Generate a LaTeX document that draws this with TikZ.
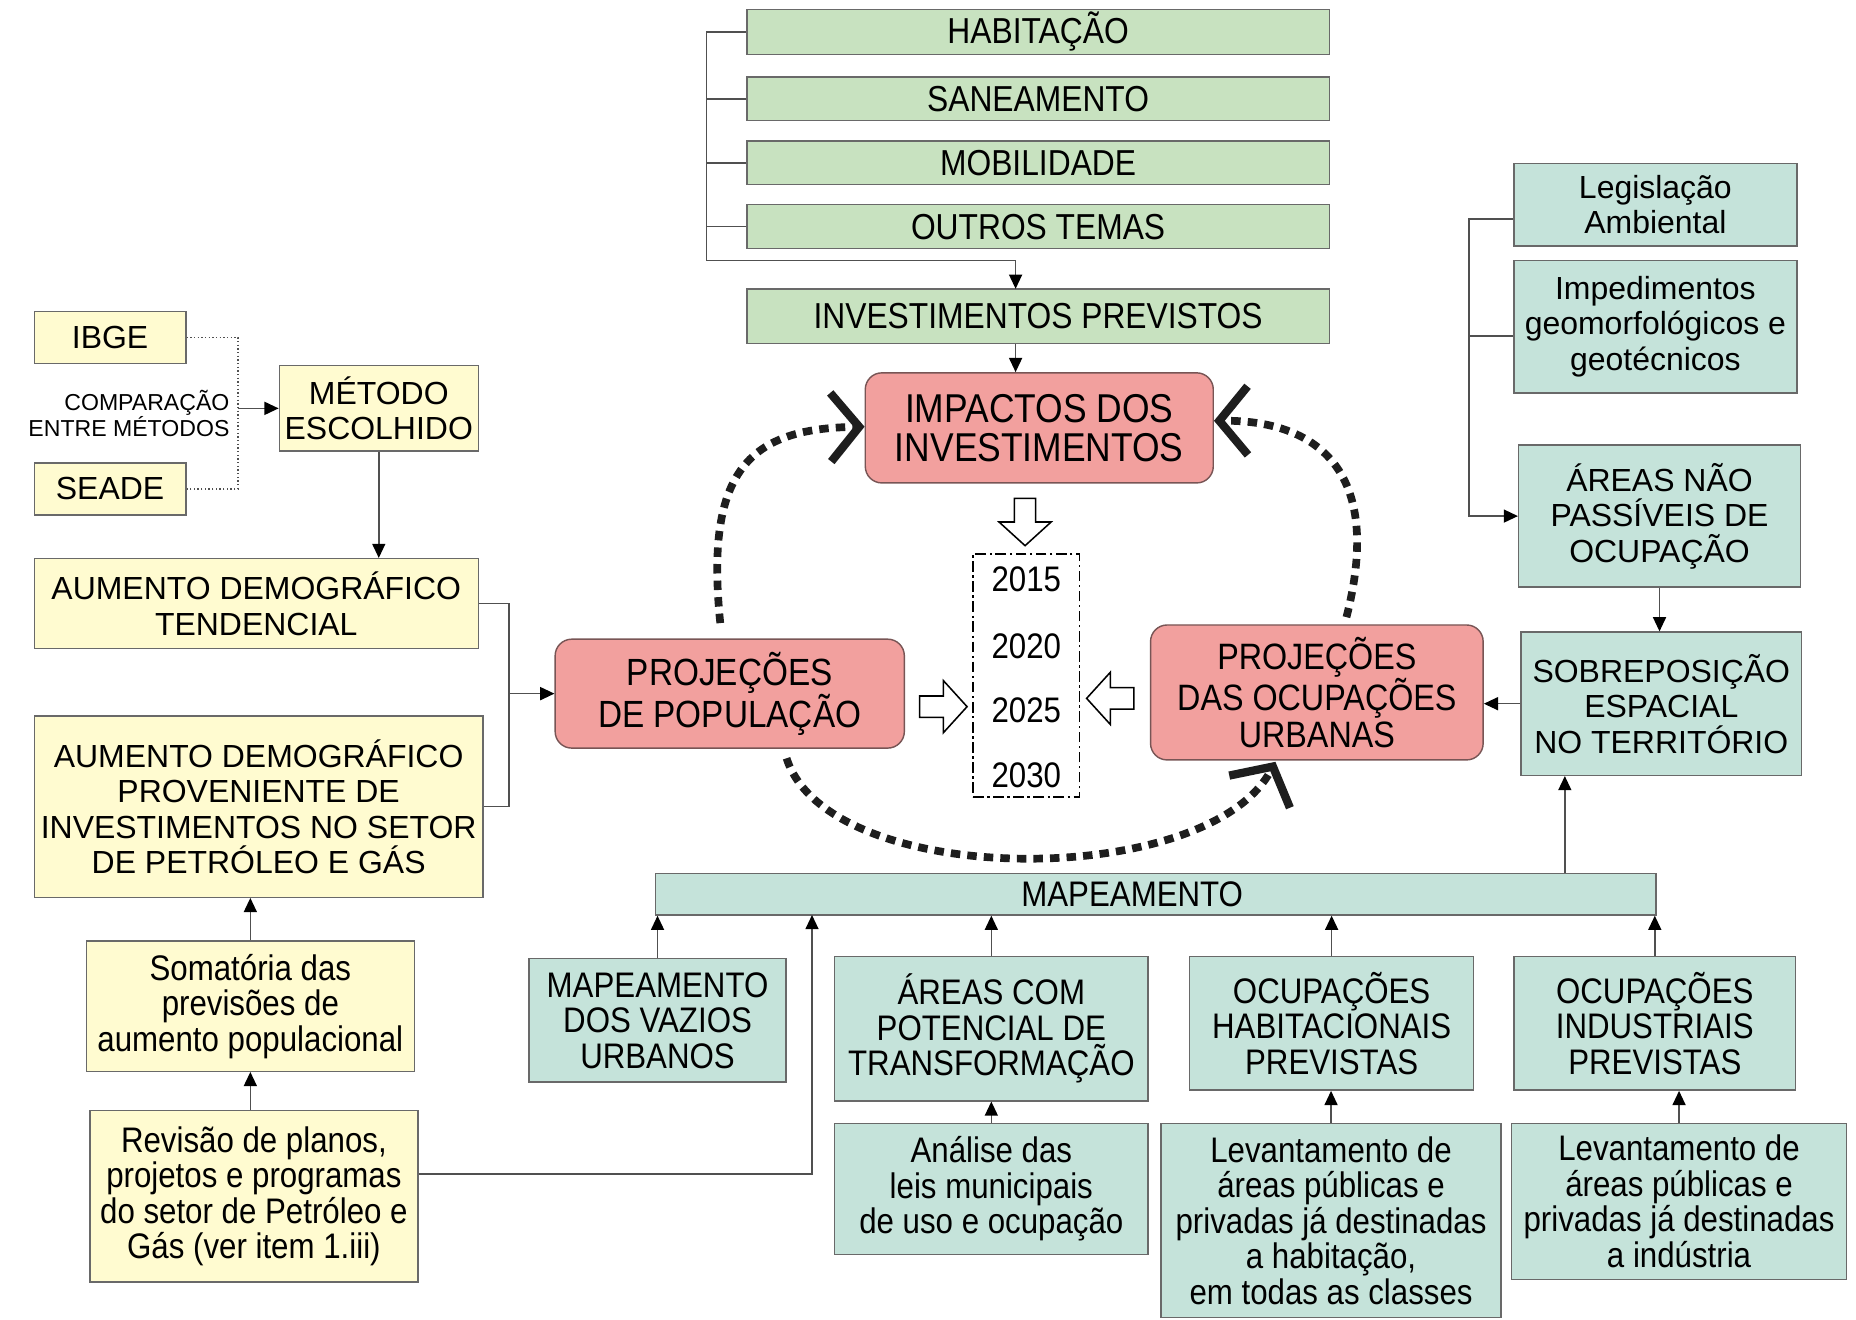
\documentclass[tikz,border=0pt]{standalone}
\usepackage{fontspec}
\setmainfont{Liberation Sans}
\newfontfamily\condfont{Liberation Sans}[FakeStretch=0.88]
\usetikzlibrary{arrows.meta,calc}
\definecolor{yel}{RGB}{255,251,208}
\definecolor{grn}{RGB}{200,226,192}
\definecolor{tealf}{RGB}{197,227,218}
\definecolor{pnk}{RGB}{242,160,158}
\definecolor{pbord}{RGB}{120,85,85}
\definecolor{bord}{RGB}{105,105,105}
\definecolor{lin}{RGB}{80,80,80}
\definecolor{dk}{RGB}{30,30,30}
\begin{document}
\begin{tikzpicture}[x=1pt,y=-1pt,
  box/.style={draw=bord, line width=1.2pt, inner sep=0pt, align=center, text=black},
  nf/.style={font=\fontsize{27}{30}\selectfont},
  cf/.style={font=\condfont\fontsize{30}{30}\selectfont},
  sz/.style 2 args={minimum width=#1pt, minimum height=#2pt},
  ybox/.style={box, fill=yel, nf},
  gbox/.style={box, fill=grn, font=\condfont\fontsize{30.5}{30}\selectfont},
  tbox/.style={box, fill=tealf},
  pbox/.style={box, fill=pnk, draw=pbord, rounded corners=14pt},
  conn/.style={draw=lin, line width=1.3pt},
  arr/.style={conn, -{Triangle[length=12pt,width=11pt,color=black]}},
  dotln/.style={draw=lin, line width=1.1pt, dotted},
  thickdots/.style={draw=dk, line width=6.5pt, dash pattern=on 8pt off 6pt,
     -{Straight Barb[length=24pt,width=58pt,line width=7pt]}},
  bigarrow/.pic={\draw[fill=white, line width=1.3pt] (-20,-9) -- (0,-9) -- (0,-22) -- (20,0) -- (0,22) -- (0,9) -- (-20,9) -- cycle;}
]
\fill[white] (0,0) rectangle (1568,1115);
\useasboundingbox (0,0) rectangle (1568,1115);

% top green column
\node[gbox, sz={492}{38}] (hab) at (877,27) {HABITAÇÃO};
\node[gbox, sz={492}{37}] (san) at (877,83.5) {SANEAMENTO};
\node[gbox, sz={492}{37}] (mob) at (877,137.5) {MOBILIDADE};
\node[gbox, sz={492}{37}] (out) at (877,191.5) {OUTROS TEMAS};
\node[gbox, sz={492}{46}] (inv) at (877,267) {INVESTIMENTOS PREVISTOS};

% pink
\node[pbox, sz={294}{93}, font=\condfont\fontsize{34}{33}\selectfont] (imp) at (878,361.5) {IMPACTOS DOS\\INVESTIMENTOS};
\node[pbox, sz={295}{92}, font=\condfont\fontsize{32}{31}\selectfont] (ppop) at (616.5,586) {PROJEÇÕES\\DE POPULAÇÃO};
\node[pbox, sz={281}{114}, font=\condfont\fontsize{31}{31.5}\selectfont] (pocu) at (1112.5,585) {PROJEÇÕES\\DAS OCUPAÇÕES\\URBANAS};

% years
\node[draw, line width=1.5pt, dash pattern=on 9pt off 3pt on 2pt off 3pt, sz={90}{205}, inner sep=0pt] (years) at (867,570.5) {};
\node[cf] (y15) at (867,489) {2015};
\node[cf] (y20) at (867,546) {2020};
\node[cf] (y25) at (867,600) {2025};
\node[cf] (y30) at (867,655) {2030};

% yellow
\node[ybox, sz={128}{44}] (ibge) at (93,285) {IBGE};
\node[ybox, sz={128}{44}] (seade) at (93,413) {SEADE};
\node[ybox, sz={168}{72}] (met) at (320,345) {MÉTODO\\ESCOLHIDO};
\node[ybox, sz={375}{76}] (tend) at (216.5,510) {AUMENTO DEMOGRÁFICO\\TENDENCIAL};
\node[ybox, sz={379}{153}] (prov) at (218.5,681.5) {AUMENTO DEMOGRÁFICO\\PROVENIENTE DE\\INVESTIMENTOS NO SETOR\\DE PETRÓLEO E GÁS};
\node[ybox, cf, sz={277}{110}] (soma) at (211.5,850) {Somatória das\\previsões de\\aumento populacional};
\node[ybox, cf, sz={277}{145}] (rev) at (214.5,1010.5) {Revisão de planos,\\projetos e programas\\do setor de Petróleo e\\Gás (ver item 1.iii)};
\node[anchor=east, align=right, inner sep=0pt, font=\fontsize{19.5}{21}\selectfont] (cmplab) at (194,349.5) {COMPARAÇÃO\\ENTRE MÉTODOS};

% teal right
\node[tbox, nf, sz={239}{70}] (leg) at (1398.5,173) {Legislação\\Ambiental};
\node[tbox, nf, sz={239}{112}] (imped) at (1398.5,276) {Impedimentos\\geomorfológicos e\\geotécnicos};
\node[tbox, nf, sz={238}{120}] (anp) at (1402,436) {ÁREAS NÃO\\PASSÍVEIS DE\\OCUPAÇÃO};
\node[tbox, nf, sz={237}{121}] (sob) at (1403.5,594.5) {SOBREPOSIÇÃO\\ESPACIAL\\NO TERRITÓRIO};

% teal bottom
\node[tbox, cf, sz={845}{35}] (map) at (976.5,755.5) {MAPEAMENTO\hspace*{40pt}};
\node[tbox, cf, sz={217}{104}] (vaz) at (555.5,862) {MAPEAMENTO\\DOS VAZIOS\\URBANOS};
\node[tbox, cf, sz={265}{122}] (pot) at (837.5,869) {ÁREAS COM\\POTENCIAL DE\\TRANSFORMAÇÃO};
\node[tbox, cf, sz={240}{113}] (hab2) at (1125,864.5) {OCUPAÇÕES\\HABITACIONAIS\\PREVISTAS};
\node[tbox, cf, sz={238}{113}] (ind) at (1398,864.5) {OCUPAÇÕES\\INDUSTRIAIS\\PREVISTAS};
\node[tbox, cf, sz={265}{111}] (ana) at (837.5,1004.5) {Análise das\\leis municipais\\de uso e ocupação};
\node[tbox, cf, sz={287}{164}] (lev1) at (1124.5,1031) {Levantamento de\\áreas públicas e\\privadas já destinadas\\a habitação,\\em todas as classes};
\node[tbox, cf, sz={283}{132}] (lev2) at (1418.5,1015) {Levantamento de\\áreas públicas e\\privadas já destinadas\\a indústria};

% helper coordinates
\coordinate (bt) at (597,220);
\coordinate (invin) at (858,244);
\coordinate (cmp) at (201,345);
\coordinate (jl) at (430,586);
\coordinate (mapin) at (686,773);
\coordinate (rb) at (1241,436);
\coordinate (sobx) at (1322,700);
\coordinate (legt) at ([yshift=-12pt]leg.west);
\coordinate (impt) at ([yshift=-8pt]imped.west);
\coordinate (revout) at ([yshift=18.5pt]rev.east);

% top bracket
\draw[arr] (hab.west) -| (bt) -| (invin);
\draw[conn] (san.west) -- (san.west -| bt);
\draw[conn] (mob.west) -- (mob.west -| bt);
\draw[conn] (out.west) -- (out.west -| bt);
\draw[arr] (inv.south -| invin) -- (imp.north -| invin);

% left side
\draw[dotln] (ibge.east) -| (cmp) |- (seade.east);
\draw[arr] (cmp) -- (met.west);
\draw[arr] (met.south) -- (met.south |- tend.north);
\draw[conn] (tend.east) -| (jl) |- (prov.east);
\draw[arr] (jl) -- (ppop.west);
\draw[arr] (soma.north) -- (soma.north |- prov.south);
\draw[arr] (rev.north -| soma.north) -- (soma.south);
\draw[arr] (revout) -| (mapin);

% right side
\draw[arr] (legt) -| (rb) -- (anp.west);
\draw[conn] (impt) -- (impt -| rb);
\draw[arr] (anp.south) -- (anp.south |- sob.north);
\draw[arr] (sob.west) -- (sob.west -| pocu.east);
\draw[arr] (map.north -| sobx) -- (sob.south -| sobx);

% bottom
\draw[arr] (vaz.north) -- (vaz.north |- map.south);
\draw[arr] (pot.north) -- (pot.north |- map.south);
\draw[arr] (hab2.north) -- (hab2.north |- map.south);
\draw[arr] (ind.north) -- (ind.north |- map.south);
\draw[arr] (ana.north) -- (ana.north |- pot.south);
\draw[arr] (lev1.north) -- (lev1.north |- hab2.south);
\draw[arr] (lev2.north) -- (lev2.north |- ind.south);

% thick dotted feedback curves
\draw[thickdots] ([xshift=-8pt,yshift=13pt]ppop.north) .. controls (595,395) and (635,362) .. ([yshift=1pt]imp.west);
\draw[thickdots] ([xshift=25pt,yshift=6pt]pocu.north) .. controls (1170,395) and (1110,355) .. ([yshift=6pt]imp.east);
\draw[thickdots] ([xshift=48pt,yshift=-8pt]ppop.south) .. controls (700,752) and (1020,752) .. ([xshift=-35pt,yshift=-1pt]pocu.south);

% open block arrows
\pic[rotate=-90] at (866,441) {bigarrow};
\pic at (797,597) {bigarrow};
\pic[rotate=180] at (938,590) {bigarrow};
\end{tikzpicture}
\end{document}
